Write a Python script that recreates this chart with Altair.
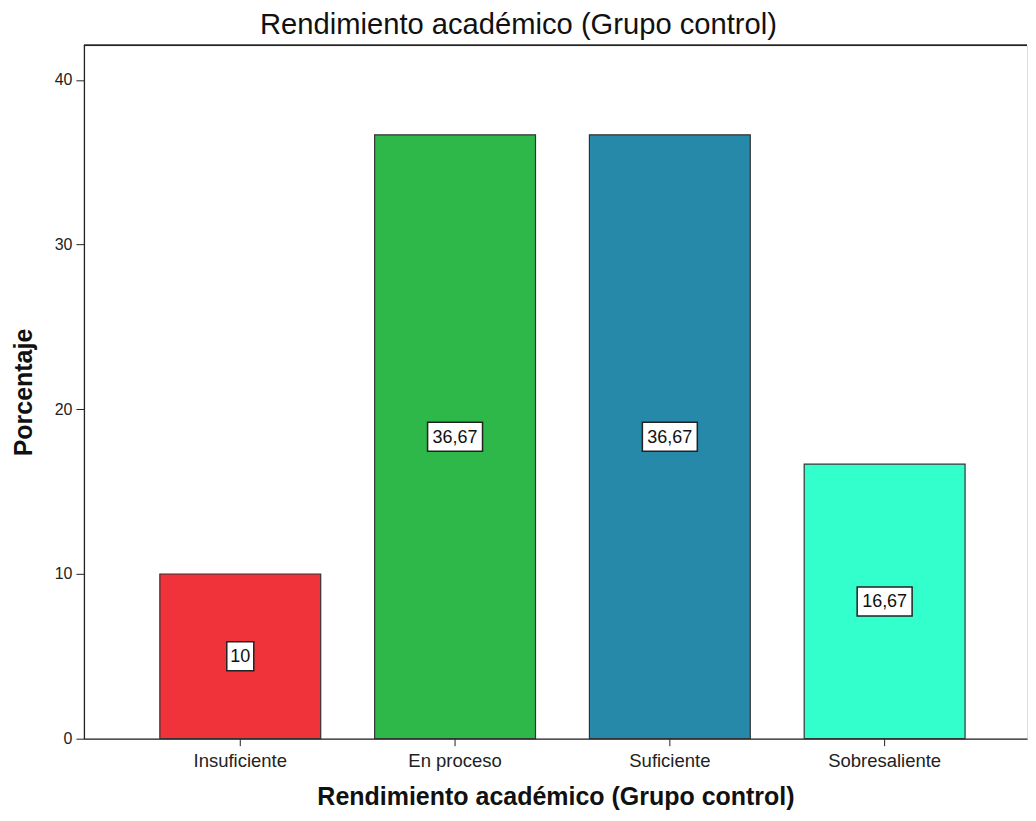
import altair as alt
import pandas as pd

categories = ["Insuficiente", "En proceso", "Suficiente", "Sobresaliente"]
values = [10.0, 36.67, 36.67, 16.67]
labels = ["10", "36,67", "36,67", "16,67"]
colors = ["#F0323A", "#2EB84A", "#2689A9", "#33FFCC"]
y_ticks = [0, 10, 20, 30, 40]
y_max = 42.1

df = pd.DataFrame({
    "cat": categories,
    "val": values,
    "label": labels,
    "mid": [v / 2 for v in values],
})

FONT = "Liberation Sans"

x = alt.X("cat:N", sort=categories,
          scale=alt.Scale(paddingInner=0.251, paddingOuter=0.3209, align=0.5507),
          axis=alt.Axis(title="Rendimiento académico (Grupo control)", labelAngle=0,
                        labelFontSize=18.5, labelFont=FONT, labelColor="#222",
                        titleFontSize=25, titleFont=FONT, titleFontWeight="bold",
                        titleColor="#111", titlePadding=14,
                        tickSize=7, tickColor="#222", domainColor="#222",
                        labelPadding=6, domainWidth=1.3))

y_scale = alt.Scale(domain=[0, y_max], nice=False)
y_axis = alt.Axis(title="Porcentaje", values=y_ticks, grid=False,
                  labelFontSize=16, labelFont=FONT, labelColor="#222",
                  titleFontSize=25, titleFont=FONT, titleFontWeight="bold",
                  titleColor="#111", titlePadding=18,
                  tickSize=8, tickColor="#222", domainColor="#222",
                  labelPadding=4, domainWidth=1.3)

bars = alt.Chart(df).mark_bar(stroke="#333", strokeWidth=1.2).encode(
    x=x,
    y=alt.Y("val:Q", scale=y_scale, axis=y_axis),
    color=alt.Color("cat:N", sort=categories,
                    scale=alt.Scale(domain=categories, range=colors), legend=None),
)

short_box = alt.Chart(df).transform_filter("length(datum.label) <= 2").mark_rect(
    width=27, height=29, fill="white", stroke="#222", strokeWidth=1.5
).encode(x=alt.X("cat:N", sort=categories), y=alt.Y("mid:Q"))

long_box = alt.Chart(df).transform_filter("length(datum.label) > 2").mark_rect(
    width=55, height=29, fill="white", stroke="#222", strokeWidth=1.5
).encode(x=alt.X("cat:N", sort=categories), y=alt.Y("mid:Q"))

texts = alt.Chart(df).mark_text(font=FONT, fontSize=18, color="#111", baseline="middle",
                                align="center", dy=1).encode(
    x=alt.X("cat:N", sort=categories), y=alt.Y("mid:Q"), text="label:N")

top_rule = alt.Chart(df).mark_rule(color="#222", strokeWidth=1.3).encode(
    y=alt.datum(y_max))

chart = alt.layer(bars, short_box, long_box, texts, top_rule).properties(
    width=944, height=694,
    padding={"left": 3, "top": 2, "right": 0, "bottom": 0},
    title=alt.TitleParams("Rendimiento académico (Grupo control)", fontSize=29.2,
                          font=FONT, fontWeight="normal", color="#111", offset=5,
                          dx=-37),
).configure_view(stroke=None).configure(background="white")

chart.save("out.html", embed_options={"renderer": "svg", "actions": False})
